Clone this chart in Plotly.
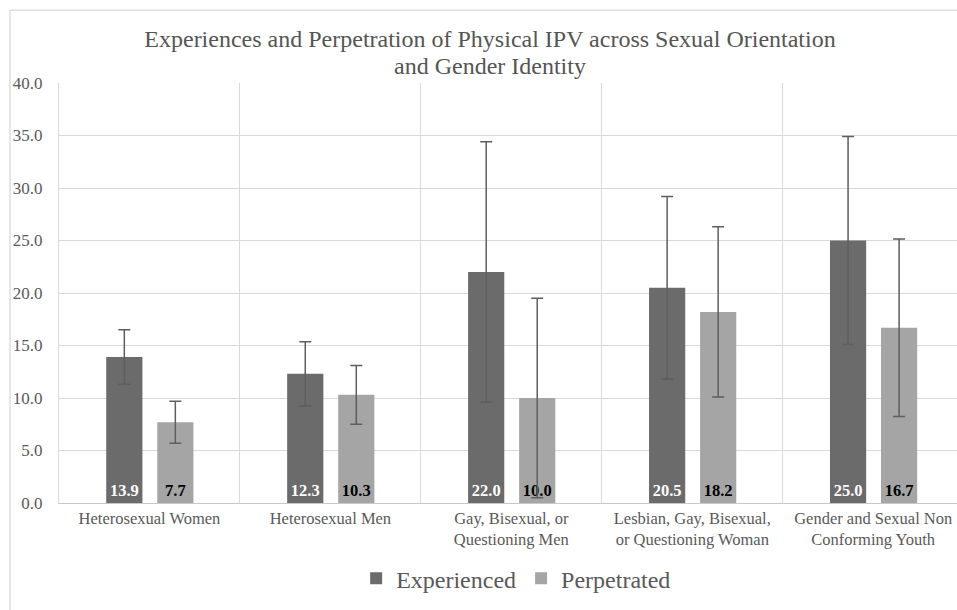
import plotly.graph_objects as go

categories = [
    "Heterosexual Women",
    "Heterosexual Men",
    "Gay, Bisexual, or<br>Questioning Men",
    "Lesbian, Gay, Bisexual,<br>or Questioning Woman",
    "Gender and Sexual Non<br>Conforming Youth",
]
experienced = [13.9, 12.3, 22.0, 20.5, 25.0]
experienced_err = [2.6, 3.05, 12.4, 8.7, 9.9]
perpetrated = [7.7, 10.3, 10.0, 18.2, 16.7]
perpetrated_err = [2.0, 2.8, 9.5, 8.1, 8.45]
y_ticks = [0, 5, 10, 15, 20, 25, 30, 35, 40]

FONT = "Liberation Serif, DejaVu Serif, Times New Roman, serif"
TXT = "#595959"
GRID = "#d9d9d9"

fig = go.Figure()
fig.add_trace(go.Bar(
    name="Experienced", x=categories, y=experienced,
    marker=dict(color="#6b6b6b", line=dict(width=0)),
    width=0.2, offset=-0.239,
    error_y=dict(type="data", array=experienced_err, visible=True,
                 color="#5e5e5e", thickness=1.5, width=6),
    text=[f"{v:.1f}" for v in experienced],
    textposition="inside", insidetextanchor="start",
    textfont=dict(family=FONT, size=16.5, color="white", weight="bold"),
    textangle=0,
))
fig.add_trace(go.Bar(
    name="Perpetrated", x=categories, y=perpetrated,
    marker=dict(color="#a5a5a5", line=dict(width=0)),
    width=0.2, offset=0.043,
    error_y=dict(type="data", array=perpetrated_err, visible=True,
                 color="#5e5e5e", thickness=1.5, width=6),
    text=[f"{v:.1f}" for v in perpetrated],
    textposition="inside", insidetextanchor="start",
    textfont=dict(family=FONT, size=16.5, color="black", weight="bold"),
    textangle=0,
))

W, H = 957, 610
L, T, B = 58.7, 82.7, 610 - 503.3
PW = W - L
PH = H - T - B

def px(x):
    return (x - L) / PW

def py(y):
    return (H - B - y) / PH

fig.update_layout(
    width=W, height=H,
    margin=dict(l=L, r=0, t=T, b=B, pad=0, autoexpand=False),
    paper_bgcolor="white", plot_bgcolor="white",
    barmode="group",
    font=dict(family=FONT, color=TXT),
    title=dict(
        text="Experiences and Perpetration of Physical IPV across Sexual Orientation",
        x=490 / W, xanchor="center", xref="container",
        y=1 - 39 / H, yanchor="middle", yref="container",
        font=dict(family=FONT, size=24, color="#555555"),
    ),
    annotations=[dict(
        text="and Gender Identity", xref="paper", yref="paper",
        x=px(490), y=py(65.5), xanchor="center", yanchor="middle",
        showarrow=False, font=dict(family=FONT, size=24, color="#555555"),
    )],
    showlegend=True,
    legend=dict(
        orientation="h", x=px(516), xanchor="center", y=py(579), yanchor="middle",
        font=dict(family=FONT, size=24, color=TXT),
        itemsizing="constant",
    ),
    xaxis=dict(
        type="category", range=[-0.5, 4.463], automargin=False,
        tickson="boundaries", showgrid=True, gridcolor=GRID, gridwidth=1.3,
        ticks="outside", ticklen=8, tickcolor="rgba(0,0,0,0)",
        showline=True, linecolor="#c8c8c8", linewidth=1.3,
        tickfont=dict(family=FONT, size=16.5, color=TXT),
    ),
    yaxis=dict(
        range=[0, 40], tickvals=y_ticks, tickformat=".1f", automargin=False,
        showgrid=True, gridcolor=GRID, gridwidth=1.3, zeroline=False,
        showline=True, linecolor=GRID, linewidth=1.3,
        ticks="outside", ticklen=12, tickcolor="rgba(0,0,0,0)",
        tickfont=dict(family=FONT, size=17, color=TXT),
    ),
    shapes=[
        dict(type="line", xref="paper", yref="paper",
             x0=px(9.7), x1=px(9.7), y0=py(615), y1=py(9.7),
             line=dict(color=GRID, width=1.3)),
        dict(type="line", xref="paper", yref="paper",
             x0=px(9.7), x1=px(960), y0=py(9.7), y1=py(9.7),
             line=dict(color=GRID, width=1.3)),
    ],
)

fig.write_html(
    "out.html",
    config={"displayModeBar": False},
    post_script="document.body.style.margin='0';document.body.style.overflow='hidden';",
)
